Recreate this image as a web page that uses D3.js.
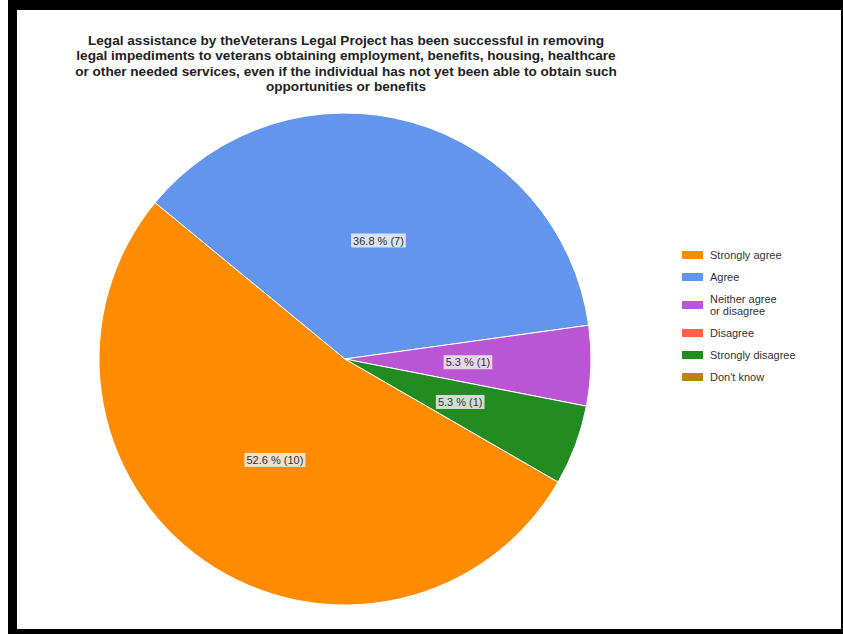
<!DOCTYPE html>
<html>
<head>
<meta charset="utf-8">
<script src="https://cdn.jsdelivr.net/npm/d3@7"></script>
<style>
  html, body { margin: 0; padding: 0; background: #fff; }
  svg { display: block; }
</style>
</head>
<body>
<svg id="chart" width="843" height="634"></svg>
<script>
// Survey responses
const categories = ["Strongly agree", "Agree", "Neither agree or disagree", "Disagree", "Strongly disagree", "Don't know"];
const counts = [10, 7, 1, 0, 1, 0];
const colors = ["#FF8C00", "#6495ED", "#BA55D3", "#FF6347", "#228B22", "#B8860B"];
const legendLines = [["Strongly agree"], ["Agree"], ["Neither agree", "or disagree"], ["Disagree"], ["Strongly disagree"], ["Don't know"]];
const titleLines = [
  "Legal assistance by theVeterans Legal Project has been successful in removing",
  "legal impediments to veterans obtaining employment, benefits, housing, healthcare",
  "or other needed services, even if the individual has not yet been able to obtain such",
  "opportunities or benefits"
];

const svg = d3.select("#chart");
const W = 843, H = 634;

// Frame
svg.append("rect").attr("x", 8).attr("y", 0).attr("width", W - 8).attr("height", H).attr("fill", "#000");
svg.append("rect").attr("x", 17).attr("y", 10).attr("width", 824).attr("height", 619).attr("fill", "#fff");

// Title
svg.append("g")
  .selectAll("text")
  .data(titleLines)
  .join("text")
  .attr("x", 346)
  .attr("y", (d, i) => 45 + i * 15.3)
  .attr("text-anchor", "middle")
  .attr("font-family", "Liberation Sans, Arial, sans-serif")
  .attr("font-weight", "bold")
  .attr("font-size", 13.6)
  .attr("fill", "#222")
  .text(d => d);

// Pie
const cx = 345, cy = 359, r = 246;
const total = d3.sum(counts);
const data = categories.map((c, i) => ({ cat: c, value: counts[i], color: colors[i] }));

const pie = d3.pie()
  .value(d => d.value)
  .sort(null)
  .startAngle(120 * Math.PI / 180)
  .endAngle(480 * Math.PI / 180);

const arc = d3.arc().innerRadius(0).outerRadius(r);
const labelArc = d3.arc().innerRadius(r * 0.5).outerRadius(r * 0.5);

const g = svg.append("g").attr("transform", `translate(${cx},${cy})`);
const arcs = pie(data);

g.selectAll("path")
  .data(arcs.filter(d => d.data.value > 0))
  .join("path")
  .attr("d", arc)
  .attr("fill", d => d.data.color)
  .attr("stroke", "#fff")
  .attr("stroke-width", 1);

// Slice labels
const fmt = d3.format(".1f");
const labels = g.selectAll("g.lab")
  .data(arcs.filter(d => d.data.value > 0))
  .join("g")
  .attr("class", "lab")
  .attr("transform", d => {
    const [x, y] = labelArc.centroid(d);
    return `translate(${x},${y})`;
  });

labels.each(function(d) {
  const sel = d3.select(this);
  const txt = `${fmt(d.data.value / total * 100)} % (${d.data.value})`;
  const t = sel.append("text")
    .attr("text-anchor", "middle")
    .attr("dy", "0.35em")
    .attr("font-family", "Liberation Sans, Arial, sans-serif")
    .attr("font-size", 11)
    .attr("fill", "#333")
    .text(txt);
  const bb = t.node().getBBox();
  sel.insert("rect", "text")
    .attr("x", bb.x - 2)
    .attr("y", bb.y - 1)
    .attr("width", bb.width + 4)
    .attr("height", bb.height + 2)
    .attr("fill", "#eeeeee")
    .attr("fill-opacity", 0.85);
});

// Legend
const legendY = [255, 277, 305, 333, 355, 377];
const leg = svg.append("g");
data.forEach((d, i) => {
  leg.append("rect")
    .attr("x", 682).attr("y", legendY[i] - 4)
    .attr("width", 21).attr("height", 8)
    .attr("fill", d.color);
  const lines = legendLines[i];
  lines.forEach((line, j) => {
    leg.append("text")
      .attr("x", 710)
      .attr("y", legendY[i] + (j - (lines.length - 1) / 2) * 11.5)
      .attr("dy", "0.35em")
      .attr("font-family", "Liberation Sans, Arial, sans-serif")
      .attr("font-size", 11)
      .attr("fill", "#333")
      .text(line);
  });
});
</script>
</body>
</html>
